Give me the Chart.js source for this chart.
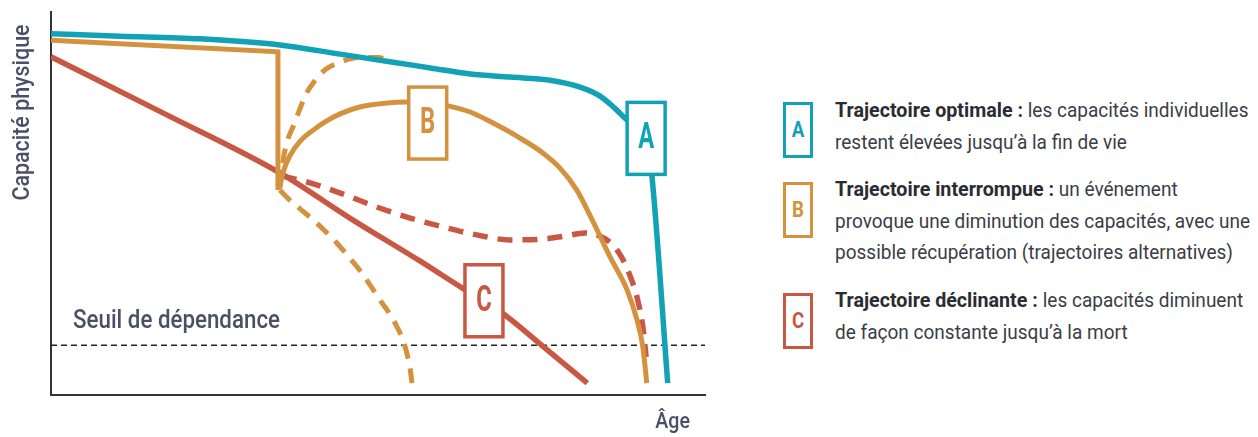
<!DOCTYPE html>
<html lang="fr">
<head>
<meta charset="utf-8">
<script src="https://cdn.jsdelivr.net/npm/chart.js@4.4.1/dist/chart.umd.min.js"></script>
<style>
  html, body { margin: 0; padding: 0; background: #fff; }
  body { width: 1258px; height: 437px; position: relative; overflow: hidden; font-family: Roboto, sans-serif; }
  #wrap { position: absolute; left: 0; top: 0; width: 720px; height: 437px; }
  .box { position: absolute; left: 783px; width: 24px; height: 50px; border: 3px solid; background: #fff; }
  .box span { position: absolute; left: 50%; top: 50%; font-weight: bold; font-size: 22px; line-height: 22px;
              transform: translate(-50%, -50%) scaleX(0.85); }
  .piece { position: absolute; white-space: pre; font-size: 21px; line-height: 31.7px; color: #3b3d46;
           transform-origin: 0 0; }
  .piece.b { color: #2a2c33; font-weight: 700; }
</style>
</head>
<body>
<div id="wrap"><canvas id="c" width="720" height="437"></canvas></div>
<div id="legend"></div>
<script>
// ---- Data (x: âge, 0-100 ; y: capacité physique, 0-100) ----
const aX = [0, 10.6, 22.8, 35.0, 44.2, 52.3, 58.0, 64.1, 70.2, 76.3, 80.9, 83.9, 86.2, 88.1, 91.1, 91.9, 94.3];
const aY = [94.3, 93.7, 93.0, 91.4, 89.0, 86.9, 85.4, 83.8, 83.0, 82.2, 80.4, 78.1, 74.9, 71.8, 66.6, 56.9, 3.1];

const bTopX = [0, 34.7, 34.7];
const bTopY = [92.6, 89.6, 53.5];

const bCurveX = [34.9, 35.5, 36.5, 38.1, 39.9, 41.9, 44.2, 47.2, 51.1, 54.4, 57.6, 60.7, 64.1, 67.6, 71.4, 75.2, 77.8, 80.4, 82.9, 85.5, 88.1, 89.6, 90.5, 91.1];
const bCurveY = [54.0, 58.2, 62.4, 66.3, 68.9, 71.3, 73.4, 75.2, 76.2, 76.5, 76.5, 75.5, 73.9, 71.0, 67.4, 63.2, 59.3, 53.5, 45.2, 36.0, 27.4, 19.6, 12.5, 3.1];

const bUpX = [35.0, 35.5, 36.2, 37.2, 38.1, 39.1, 40.4, 41.9, 44.2, 47.2, 50.0, 52.3];
const bUpY = [54.0, 61.4, 66.6, 70.8, 74.9, 78.9, 82.2, 84.9, 86.9, 88.1, 88.1, 86.9];

const bDownX = [35.0, 36.5, 38.1, 40.1, 41.9, 43.7, 45.4, 47.2, 48.8, 50.3, 51.7, 52.9, 53.8, 54.4, 54.9, 55.2];
const bDownY = [53.5, 50.9, 48.6, 45.7, 42.8, 39.7, 36.3, 32.6, 28.7, 24.8, 21.4, 17.8, 14.4, 11.0, 7.0, 3.1];

const cX = [0, 17.4, 35.0, 45.7, 56.4, 63.1, 66.2, 69.4, 75.5, 82.0];
const cY = [88.3, 73.4, 58.0, 46.2, 35.0, 27.7, 24.5, 20.9, 12.3, 3.1];

const cAltX = [35.3, 39.6, 44.6, 49.8, 54.9, 59.9, 65.1, 70.2, 75.2, 78.6, 81.7, 83.9, 85.9, 87.3, 88.5, 89.6, 90.5, 91.0];
const cAltY = [57.2, 55.4, 52.5, 49.1, 46.2, 43.9, 41.8, 40.5, 40.7, 41.5, 42.3, 41.5, 39.2, 35.8, 31.3, 25.6, 17.8, 9.9];

const thresholdX = [0, 100];
const thresholdY = [13.0, 13.0];

// labels on the curves (data coordinates)
const markerLetters = ['A', 'B', 'C'];
const markerX = [91.0, 57.6, 66.2];
const markerY = [67.0, 71.0, 24.6];

const legendTitles = ['Trajectoire optimale :', 'Trajectoire interrompue :', 'Trajectoire déclinante :'];
const legendLines = [
  [' les capacités individuelles', 'restent élevées jusqu’à la fin de vie'],
  [' un événement', 'provoque une diminution des capacités, avec une', 'possible récupération (trajectoires alternatives)'],
  [' les capacités diminuent', 'de façon constante jusqu’à la mort']
];

const axisYTitle = 'Capacité physique';
const axisXTitle = 'Âge';
const thresholdLabel = 'Seuil de dépendance';

// ---- Styles ----
const TEAL = '#12a2b5', ORANGE = '#d4923f', RED = '#c85843', INK = '#4a5067';
const FONT = 'Roboto, sans-serif';
const colors = [TEAL, ORANGE, RED];

const measureCtx = document.createElement('canvas').getContext('2d');
function textW(font, s) { measureCtx.font = font; return measureCtx.measureText(s).width; }
// horizontal condensation to mimic the condensed typeface of the original
const K = 207 / textW('500 25px ' + FONT, thresholdLabel);

const pts = (xs, ys) => xs.map((x, i) => ({ x, y: ys[i] }));
const base = { pointRadius: 0, fill: false, borderCapStyle: 'butt', borderJoinStyle: 'round' };
const DASH = [15, 10];

const datasets = [
  Object.assign({}, base, { label: 'A', data: pts(aX, aY), borderColor: TEAL, borderWidth: 5.5, cubicInterpolationMode: 'monotone', order: 0 }),
  Object.assign({}, base, { label: 'B', data: pts(bTopX, bTopY), borderColor: ORANGE, borderWidth: 5, tension: 0, borderJoinStyle: 'miter', order: 1 }),
  Object.assign({}, base, { label: 'B2', data: pts(bCurveX, bCurveY), borderColor: ORANGE, borderWidth: 5, cubicInterpolationMode: 'monotone', order: 1 }),
  Object.assign({}, base, { label: 'B3', data: pts(bUpX, bUpY), borderColor: ORANGE, borderWidth: 5, borderDash: DASH, cubicInterpolationMode: 'monotone', order: 2 }),
  Object.assign({}, base, { label: 'B4', data: pts(bDownX, bDownY), borderColor: ORANGE, borderWidth: 5, borderDash: DASH, cubicInterpolationMode: 'monotone', order: 2 }),
  Object.assign({}, base, { label: 'C2', data: pts(cAltX, cAltY), borderColor: RED, borderWidth: 5.5, borderDash: DASH, cubicInterpolationMode: 'monotone', order: 3 }),
  Object.assign({}, base, { label: 'C', data: pts(cX, cY), borderColor: RED, borderWidth: 5.5, cubicInterpolationMode: 'monotone', order: 4 }),
  Object.assign({}, base, { label: 'seuil', data: pts(thresholdX, thresholdY), borderColor: '#222', borderWidth: 1.5, borderDash: [6, 4], tension: 0, order: 5 })
];

function condensedText(ctx, s, x, y, k, align, baseline, rot) {
  ctx.save();
  ctx.translate(x, y);
  if (rot) ctx.rotate(rot);
  ctx.scale(k, 1);
  ctx.textAlign = align;
  ctx.textBaseline = baseline;
  ctx.fillText(s, 0, 0);
  ctx.restore();
}

const decor = {
  id: 'decor',
  afterDatasetsDraw(chart) {
    const { ctx, scales: { x, y } } = chart;
    ctx.save();
    markerLetters.forEach((t, i) => {
      const cx = x.getPixelForValue(markerX[i]);
      const cy = y.getPixelForValue(markerY[i]);
      const w = 38, h = 72;
      ctx.fillStyle = '#fff';
      ctx.fillRect(cx - w / 2, cy - h / 2, w, h);
      ctx.lineWidth = 3.5;
      ctx.strokeStyle = colors[i];
      ctx.strokeRect(cx - w / 2, cy - h / 2, w, h);
      ctx.fillStyle = colors[i];
      ctx.font = 'bold 36px ' + FONT;
      condensedText(ctx, t, cx, cy + 10, 0.66, 'center', 'alphabetic');
    });
    ctx.fillStyle = INK;
    ctx.font = '500 25px ' + FONT;
    condensedText(ctx, thresholdLabel, chart.chartArea.left + 22, y.getPixelForValue(thresholdY[0]) - 17, K, 'left', 'alphabetic');
    ctx.font = '500 22px ' + FONT;
    condensedText(ctx, axisXTitle, chart.chartArea.right - 15, 428, K, 'right', 'alphabetic');
    ctx.font = '500 24px ' + FONT;
    condensedText(ctx, axisYTitle, 29, 112.5, K, 'center', 'alphabetic', -Math.PI / 2);
    ctx.restore();
  }
};

new Chart(document.getElementById('c'), {
  type: 'line',
  data: { datasets },
  options: {
    responsive: false,
    animation: false,
    devicePixelRatio: 1,
    layout: { padding: { left: 51, right: 15, top: 12, bottom: 42 } },
    plugins: { legend: { display: false }, tooltip: { enabled: false } },
    scales: {
      x: {
        type: 'linear', min: 0, max: 100,
        ticks: { display: false }, grid: { display: false },
        border: { display: true, color: '#333', width: 2 },
        afterFit(s) { s.height = 0; }
      },
      y: {
        type: 'linear', min: 0, max: 100,
        ticks: { display: false }, grid: { display: false },
        border: { display: true, color: '#333', width: 2 },
        afterFit(s) { s.width = 0; }
      }
    }
  },
  plugins: [decor]
});

// ---- Legend ----
const legend = document.getElementById('legend');
const boxTops = [102, 182, 293];
const textTops = [95, 174, 285];
const LH = 31.7, LX = 835;
const FB = 'bold 21px ' + FONT, FR = '21px ' + FONT;
const KB = 188 / textW(FB, legendTitles[0]);        // bold condensation
const KR = 415 / textW(FR, legendLines[1][1]);      // regular condensation
function piece(cls, text, left, top, k) {
  const d = document.createElement('div');
  d.className = 'piece' + (cls ? ' ' + cls : '');
  d.textContent = text;
  d.style.left = left + 'px';
  d.style.top = top + 'px';
  d.style.transform = 'scaleX(' + k + ')';
  legend.appendChild(d);
}
legendTitles.forEach((t, i) => {
  const box = document.createElement('div');
  box.className = 'box';
  box.style.top = boxTops[i] + 'px';
  box.style.borderColor = colors[i];
  box.style.color = colors[i];
  box.innerHTML = '<span>' + markerLetters[i] + '</span>';
  legend.appendChild(box);
  const bw = textW(FB, t) * KB;
  piece('b', t, LX, textTops[i], KB);
  legendLines[i].forEach((line, j) => {
    if (j === 0) piece('', line, LX + bw, textTops[i], KR);
    else piece('', line, LX, textTops[i] + j * LH, KR);
  });
});
</script>
</body>
</html>
